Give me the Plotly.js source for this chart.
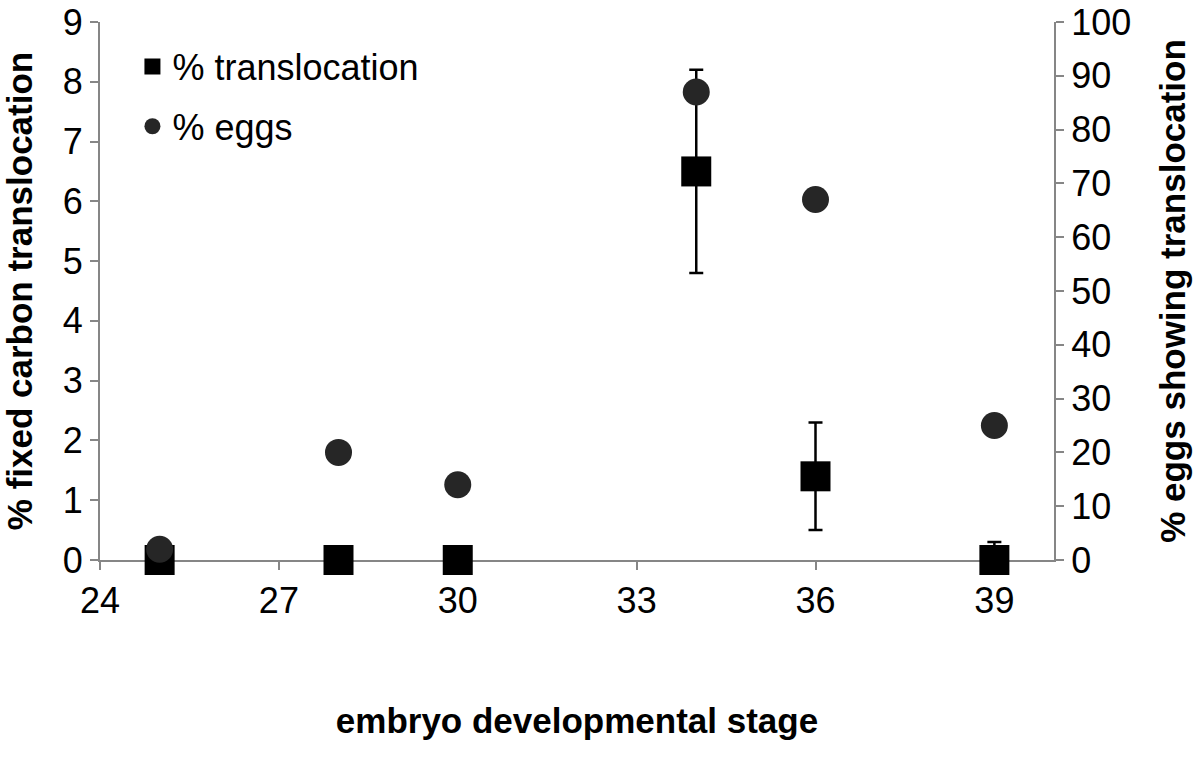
<!DOCTYPE html>
<html>
<head>
<meta charset="utf-8">
<script src="https://cdn.plot.ly/plotly-3.0.1.min.js"></script>
<style>html,body{margin:0;padding:0;background:#fff;}#chart{width:1200px;height:772px;}</style>
</head>
<body>
<div id="chart"></div>
<script>
// Data
const stages = [25, 28, 30, 34, 36, 39];
const translocation = [0, 0, 0, 6.5, 1.4, 0];
const translocationErr = [0, 0, 0, 1.7, 0.9, 0.3];
const eggsPct = [2, 20, 14, 87, 67, 25];
const xTicks = [24, 27, 30, 33, 36, 39];
const yLeftTicks = [0, 1, 2, 3, 4, 5, 6, 7, 8, 9];
const yRightTicks = [0, 10, 20, 30, 40, 50, 60, 70, 80, 90, 100];

const FONT = 'Liberation Sans, Arial, sans-serif';
const AXC = '#868686';
const TICKF = {family: FONT, size: 36, color: '#000'};
const TITLEF = {family: FONT, size: 35, color: '#000'};

const traces = [
  {
    x: stages, y: translocation, type: 'scatter', mode: 'markers',
    name: '% translocation', yaxis: 'y', cliponaxis: false, legendgroup: 'a',
    marker: {symbol: 'square', size: 30, color: '#000000'},
    error_y: {type: 'data', array: translocationErr, visible: true, color: '#000000', thickness: 2.5, width: 7}
  },
  {
    x: stages, y: eggsPct, type: 'scatter', mode: 'markers',
    name: '% eggs', yaxis: 'y2', cliponaxis: false, legendgroup: 'b',
    marker: {symbol: 'circle', size: 27, color: '#262626'}
  }
];

const layout = {
  width: 1200, height: 772,
  margin: {l: 100, r: 146, t: 22, b: 212},
  paper_bgcolor: '#ffffff', plot_bgcolor: '#ffffff',
  font: {family: FONT, size: 28, color: '#000000'},
  showlegend: true,
  legend: {x: 0.034, y: 0.973, xanchor: 'left', yanchor: 'top', bgcolor: 'rgba(0,0,0,0)',
           traceorder: 'grouped', tracegroupgap: 10,
           font: {family: FONT, size: 36, color: '#000'}, itemsizing: 'trace'},
  xaxis: {
    range: [24, 40], tickvals: xTicks, ticktext: xTicks.map(String),
    showgrid: false, zeroline: false, showline: true, linecolor: AXC, linewidth: 2,
    ticks: 'outside', ticklen: 8, tickwidth: 2, tickcolor: AXC, layer: 'below traces',
    tickfont: TICKF, ticklabeloverflow: 'allow',
    title: {text: '<b>embryo developmental stage</b>', font: TITLEF, standoff: 88}
  },
  yaxis: {
    range: [0, 9], tickvals: yLeftTicks,
    showgrid: false, zeroline: false, showline: true, linecolor: AXC, linewidth: 2,
    ticks: 'outside', ticklen: 8, tickwidth: 2, tickcolor: AXC, layer: 'below traces',
    tickfont: TICKF, ticklabeloverflow: 'allow',
    title: {text: '<b>% fixed carbon translocation</b>', font: TITLEF, standoff: 22}
  },
  yaxis2: {
    range: [0, 100], tickvals: yRightTicks, overlaying: 'y', side: 'right',
    showgrid: false, zeroline: false, showline: true, linecolor: AXC, linewidth: 2,
    ticks: 'outside', ticklen: 8, tickwidth: 2, tickcolor: AXC, layer: 'below traces',
    tickfont: TICKF, ticklabeloverflow: 'allow',
    title: {text: '<b>% eggs showing translocation</b>', font: TITLEF, standoff: 30}
  }
};

Plotly.newPlot('chart', traces, layout, {displayModeBar: false, staticPlot: true});
</script>
</body>
</html>
